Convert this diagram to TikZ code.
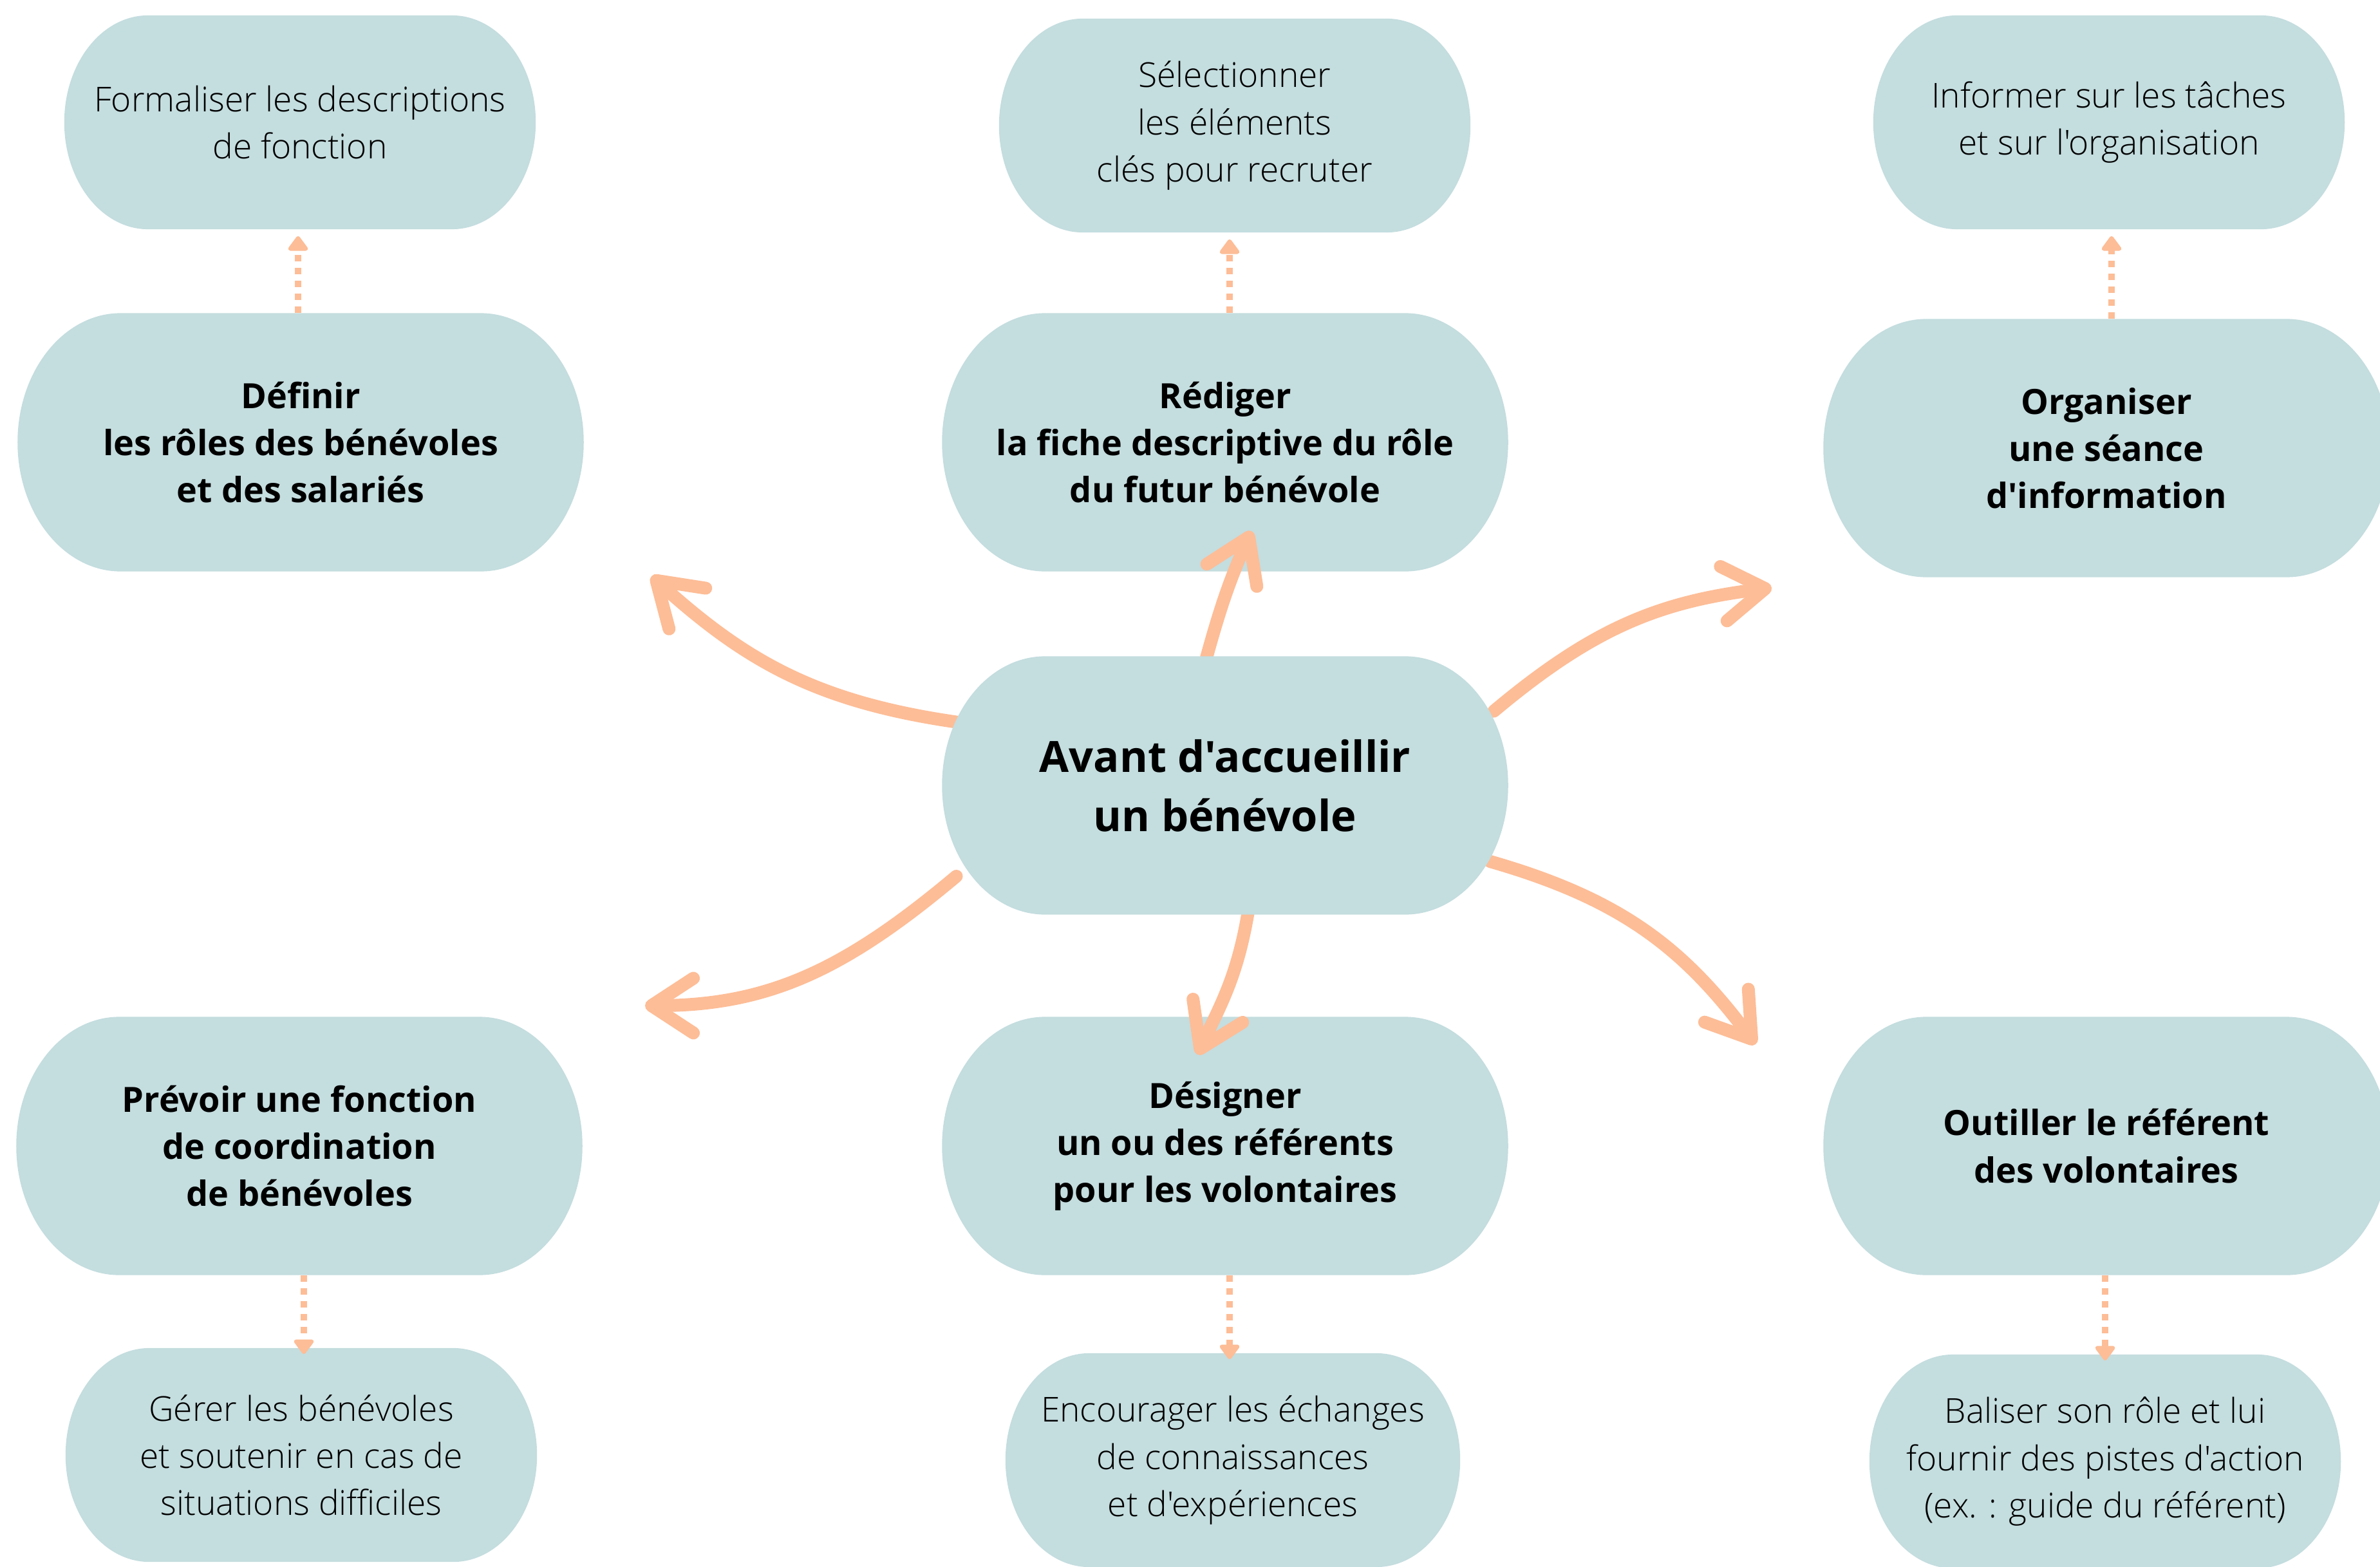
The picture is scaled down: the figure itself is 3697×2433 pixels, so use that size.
\documentclass[tikz,border=0pt]{standalone}
\usepackage{fontspec}
\setmainfont{Open Sans}[Ligatures=TeXOff]
\IfFontExistsTF{Open Sans Light}
  {\newfontfamily\lightfont{Open Sans Light}[Ligatures=TeXOff]}
  {\newfontfamily\lightfont{Open Sans}[Ligatures=TeXOff]}
\usetikzlibrary{arrows.meta}

\definecolor{boxfill}{HTML}{C4DDDF}
\definecolor{arrowcol}{HTML}{FDBD97}

\pgfdeclarelayer{front}
\pgfsetlayers{main,front}

\newcommand\hubfont{\fontsize{19}{26.2}\selectfont\bfseries}
\newcommand\stepfont{\fontsize{15.35}{20.8}\selectfont\bfseries}
\newcommand\notefont{\fontsize{15.15}{20.8}\selectfont\lightfont}

\tikzset{
  pillfill/.style 2 args={path picture={
    \fill[boxfill] ([xshift=#1]path picture bounding box.north west)
      -- ([xshift=-#1]path picture bounding box.north east)
      arc[start angle=90,end angle=-90,x radius=#1,y radius=#2]
      -- ([xshift=#1]path picture bounding box.south west)
      arc[start angle=270,end angle=90,x radius=#1,y radius=#2] -- cycle;}},
  stepbox/.style={minimum width=8.79cm, minimum height=4.01cm, inner sep=0pt,
    align=center, font=\stepfont, pillfill={1.6cm}{2.005cm}},
  notebox/.style={minimum width=7.32cm, minimum height=3.32cm, inner sep=0pt,
    align=center, font=\notefont, pillfill={1.3cm}{1.66cm}},
  hub/.style={stepbox, font=\hubfont},
  spoke/.style={draw=arrowcol, line width=0.2cm, line cap=round, shorten <=-0.3cm,
    -{Straight Barb[length=0.65cm,width=0.85cm,round]}},
  dotlink/.style={draw=arrowcol, line width=0.1cm, dash pattern=on 0.1cm off 0.1cm,
    -{Triangle[length=0.25cm,width=0.35cm,round]}}
}

\begin{document}
\begin{tikzpicture}[x=0.01cm,y=0.01cm]

\useasboundingbox (0,0) rectangle (3697,-2433);

% rangée du haut
\node[notebox] (formal) at (466,-190) {Formaliser les descriptions\\de fonction};
\node[notebox] (selec) at (1918,-195) {Sélectionner\\les éléments\\clés pour recruter};
\node[notebox] (inform) at (3276,-190) {Informer sur les tâches\\et sur l'organisation};

\node[stepbox] (defin) at (467,-687) {Définir\\les rôles des bénévoles\\et des salariés};
\node[stepbox] (redig) at (1903,-687) {Rédiger\\la fiche descriptive du rôle\\du futur bénévole};
\node[stepbox] (organ) at (3272,-696) {Organiser\\une séance\\d'information};

% rangée du bas
\node[stepbox] (prevoir) at (465,-1780) {Prévoir une fonction\\de coordination\\de bénévoles};
\node[stepbox] (design) at (1903,-1780) {Désigner\\un ou des référents\\pour les volontaires};
\node[stepbox] (outil) at (3272,-1780) {Outiller le référent\\des volontaires};

\node[notebox] (gerer) at (468,-2260) {Gérer les bénévoles\\et soutenir en cas de\\situations difficiles};
\node[notebox, minimum width=7.06cm] (encour) at (1915,-2268) {Encourager les échanges\\de connaissances\\et d'expériences};
\node[notebox] (balis) at (3270,-2270) {Baliser son rôle et lui\\fournir des pistes d'action\\(ex. : guide du référent)};

\begin{pgfonlayer}{front}
\node[hub] (centre) at (1903,-1220) {Avant d'accueillir\\un bénévole};% centre
\end{pgfonlayer}

% pointes des flèches
\coordinate (tipdefin) at (1012,-895);
\coordinate (tipredig) at (1944,-825);
\coordinate (tiporgan) at (2752,-913);
\coordinate (tipprevoir) at (1002,-1562);
\coordinate (tipdesign) at (1860,-1638);
\coordinate (tipoutil) at (2727,-1622);

\draw[spoke] (centre.167) to[out=172,in=-42] (tipdefin);
\draw[spoke] (centre.98) to[out=75,in=-114] (tipredig);
\draw[spoke] (centre.17) to[out=40,in=187] (tiporgan);
\draw[spoke] (centre.200) to[out=220,in=0] (tipprevoir);
\draw[spoke] (centre.-80) to[out=-98,in=65] (tipdesign);
\draw[spoke] (centre.-16) to[out=-16,in=127] (tipoutil);

% liens pointillés
\draw[dotlink, shorten >=0.1cm] ([xshift=-0.04cm]defin.north) -- ([xshift=-0.04cm]defin.north |- formal.south);
\draw[dotlink, shorten >=0.1cm] ([xshift=0.07cm]redig.north) -- ([xshift=0.07cm]redig.north |- selec.south);
\draw[dotlink, shorten >=0.1cm] ([xshift=0.08cm]organ.north) -- ([xshift=0.08cm]organ.north |- inform.south);
\draw[dotlink, shorten >=-0.1cm] ([xshift=0.07cm]prevoir.south) -- ([xshift=0.07cm]prevoir.south |- gerer.north);
\draw[dotlink, shorten >=-0.1cm] ([xshift=0.07cm]design.south) -- ([xshift=0.07cm]design.south |- encour.north);
\draw[dotlink, shorten >=-0.1cm] ([xshift=-0.02cm]outil.south) -- ([xshift=-0.02cm]outil.south |- balis.north);

\end{tikzpicture}
\end{document}
